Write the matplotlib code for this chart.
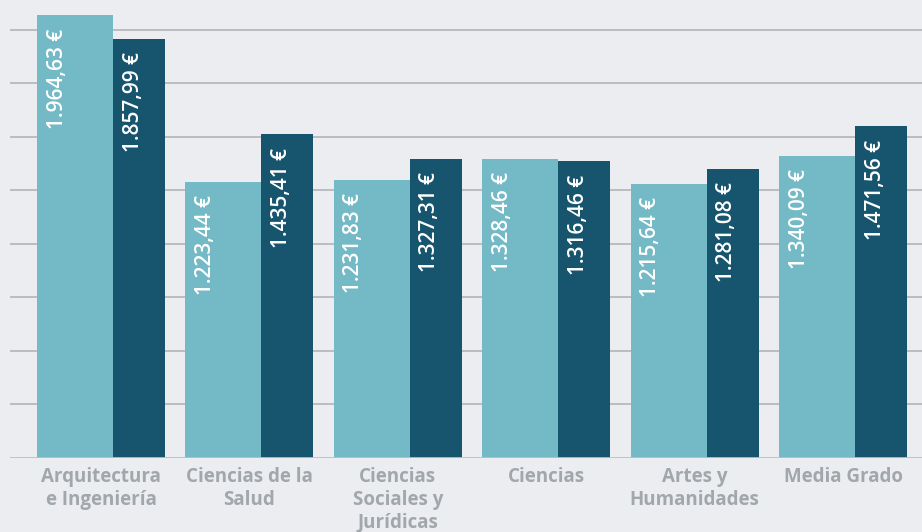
import matplotlib.pyplot as plt
import numpy as np

categories = [
    "Arquitectura\ne Ingeniería",
    "Ciencias de la\nSalud",
    "Ciencias\nSociales y\nJurídicas",
    "Ciencias",
    "Artes y\nHumanidades",
    "Media Grado",
]
light_values = [1964.63, 1223.44, 1231.83, 1328.46, 1215.64, 1340.09]
dark_values = [1857.99, 1435.41, 1327.31, 1316.46, 1281.08, 1471.56]
grid_levels = [237.5 * k for k in range(1, 9)]

LIGHT = "#74b9c6"
DARK = "#17546e"
BG = "#ebedf0"
GRID = "#b6b9bb"
LABEL = "#a1a7ab"


def euro(v):
    s = f"{v:,.2f}".replace(",", "X").replace(".", ",").replace("X", ".")
    return s + " €"


plt.rcParams["font.family"] = ["Open Sans", "DejaVu Sans"]

fig = plt.figure(figsize=(9.22, 5.32), dpi=100, facecolor=BG)
ax = fig.add_axes([10 / 922, 74.3 / 532, 912 / 922, 457.7 / 532])
ax.set_facecolor(BG)

# one data unit = one group pitch (~148.4 px)
px = 1 / 148.4
w_light = 76 * px
w_dark = 52 * px
x = np.arange(len(categories))

for g in grid_levels:
    ax.axhline(g, color=GRID, lw=1.3, zorder=0)
ax.axhline(0, color="#bcbfc1", lw=2, zorder=3)

ax.bar(x, light_values, width=w_light, align="edge", color=LIGHT, zorder=2)
ax.bar(x + w_light, dark_values, width=w_dark, align="edge", color=DARK, zorder=2)

for xs, vals in ((x, light_values), (x + w_light, dark_values)):
    for xi, v in zip(xs, vals):
        ax.annotate(euro(v), (xi + 20 * px, v), xytext=(0, -13 * 0.72),
                    textcoords="offset points", rotation=90, ha="center",
                    va="top", color="white", fontsize=15, fontweight="semibold",
                    zorder=4)

centers = x + (w_light + w_dark) / 2
for xc, name in zip(centers, categories):
    ax.annotate(name, (xc, 0), xytext=(0, -9 * 0.72), textcoords="offset points",
                ha="center", va="top", color=LABEL, fontsize=13.5,
                fontweight="bold", linespacing=1.2, annotation_clip=False)

ax.set_xlim((10 - 37) * px, (922 - 37) * px)
ax.set_ylim(0, 457.7 / 0.2252)
ax.axis("off")

fig.savefig("out.png", dpi=100, facecolor=BG)
